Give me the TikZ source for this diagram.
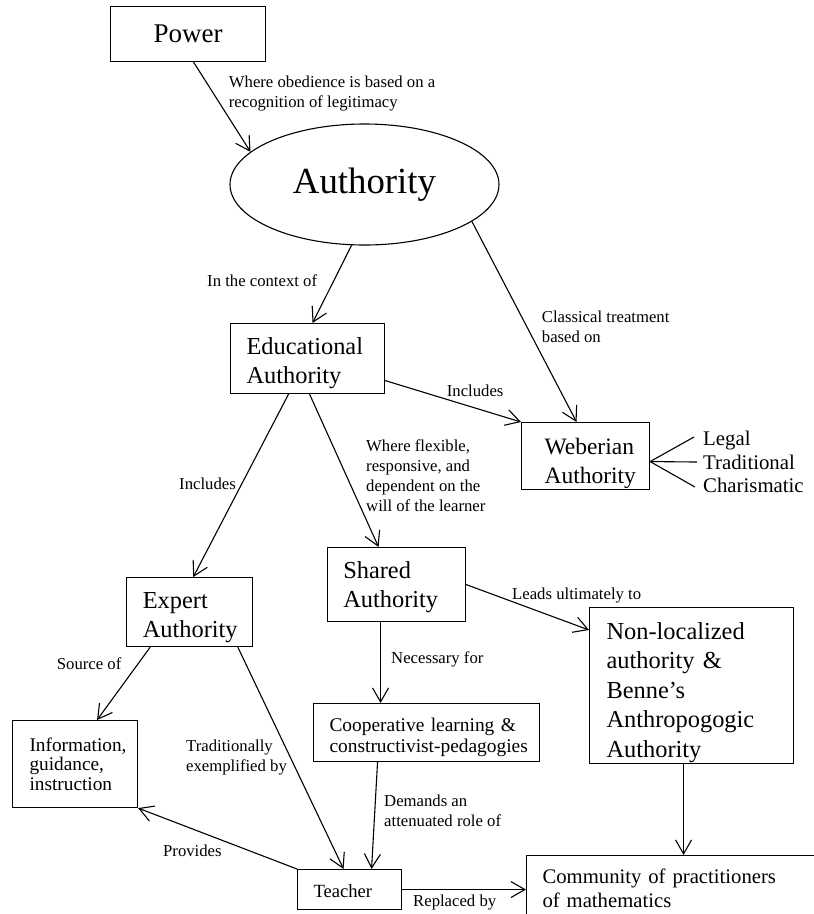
\documentclass[tikz,border=0pt]{standalone}
\usepackage{fontspec}
\setmainfont{Liberation Serif}
\usetikzlibrary{shapes.geometric,arrows.meta}
\hyphenpenalty=10000
\exhyphenpenalty=10000

\begin{document}
\begin{tikzpicture}[x=1pt,y=-1pt,
		box/.style={draw, rectangle, align=left, inner xsep=16pt, inner ysep=0pt, anchor=north west, line width=1.1pt},
		lbl/.style={align=left, inner sep=0pt, anchor=north west, font=\fontsize{16.7}{20}\selectfont},
		conn/.style={-{Straight Barb[length=14pt,width=16pt]}, line width=1.1pt}]
		\useasboundingbox (0,0) rectangle (814,914);
		\clip (0,0) rectangle (814,914);
		\node[box, align=center, inner xsep=10pt, text width=135pt, minimum height=55pt, font=\fontsize{27}{30}\selectfont] (power) at (110,6) {Power};
		\node[draw, ellipse, minimum width=269pt, minimum height=121pt, inner sep=0pt, line width=1.1pt, font=\fontsize{36.8}{40}\selectfont] (auth) at (364.5,184.5) {Authority};
		\node[box, text width=122pt, text height=26.7pt, minimum height=70pt, font=\fontsize{24.4}{29}\selectfont] (edu) at (230,323) {Educational\\Authority};
		\node[box, inner xsep=23pt, text width=82pt, text height=31pt, minimum height=67pt, font=\fontsize{23.5}{29}\selectfont] (web) at (521,422) {Weberian\\Authority};
		\node[lbl, font=\fontsize{20.8}{23.5}\selectfont] (types) at (703,431) {Legal\\Traditional\\Charismatic};
		\node[box, inner xsep=16.5pt, text width=93pt, text height=26.7pt, minimum height=69pt, font=\fontsize{24.4}{29}\selectfont] (expert) at (125.7,577) {Expert\\Authority};
		\node[box, inner xsep=15.7pt, text width=106.6pt, text height=22.7pt, minimum height=74pt, font=\fontsize{24.4}{29}\selectfont] (shared) at (327,547) {Shared\\Authority};
		\node[box, inner xsep=17pt, text width=91pt, minimum height=87pt, font=\fontsize{19.3}{19.5}\selectfont] (info) at (12,720) {Information,\\guidance,\\instruction};
		\node[box, text width=194pt, text height=23.3pt, minimum height=58pt, font=\fontsize{19.4}{21}\selectfont] (coop) at (313,703) {Cooperative learning \&\\constructivist-pedagogies};
		\node[box, inner xsep=17pt, text width=170pt, text height=30.7pt, minimum height=156pt, font=\fontsize{24.4}{29.5}\selectfont] (nonloc) at (589,607) {Non-localized\\authority \&\\Benne’s\\Anthropogogic\\Authority};
		\node[box, text width=72pt, text height=16.7pt, minimum height=40pt, font=\fontsize{18.6}{20}\selectfont] (teacher) at (297,869) {Teacher};
		\node[box, text width=272pt, minimum height=66pt, font=\fontsize{20.7}{23.5}\selectfont] (comm) at (526,855) {Community of practitioners\\of mathematics};

		\node[lbl] (obey) at (228.7,75.5) {Where obedience is based on a\\recognition of legitimacy};
		\node[lbl] (context) at (207,274.5) {In the context of};
		\node[lbl] (classical) at (541.7,310.5) {Classical treatment\\based on};
		\node[lbl] (incweb) at (446.7,384.5) {Includes};
		\node[lbl] (flexible) at (366,439.5) {Where flexible,\\responsive, and\\dependent on the\\will of the learner};
		\node[lbl] (incexp) at (179,477.5) {Includes};
		\node[lbl] (leads) at (512,587.5) {Leads ultimately to};
		\node[lbl] (necessary) at (391,652) {Necessary for};
		\node[lbl] (source) at (56.7,657.5) {Source of};
		\node[lbl] (tradition) at (186,739.5) {Traditionally\\exemplified by};
		\node[lbl] (demands) at (384,794.5) {Demands an\\attenuated role of};
		\node[lbl] (provides) at (163,844.5) {Provides};
		\node[lbl] (replaced) at (413,894.5) {Replaced by};

		\draw[conn] ([xshift=5.5pt]power.south) -- (auth.164);
		\draw[conn] (auth.258) -- ([xshift=5pt]edu.north);
		\draw[conn] (auth.-19) -- ([xshift=-9pt]web.north);
		\draw[conn] ([yshift=-22pt]edu.east) -- (web.north west);
		\draw[conn] ([xshift=-19pt]edu.south) -- ([xshift=4pt]expert.north);
		\draw[conn] ([xshift=2pt]edu.south) -- ([xshift=-18pt]shared.north);
		\draw[conn] (shared.east) -- ([yshift=-23pt]nonloc.north west);
		\draw[conn] ([xshift=-16pt]shared.south) -- ([xshift=-16pt]shared.south |- coop.north);
		\draw[conn] ([xshift=-49pt]coop.south) -- ([xshift=22pt]teacher.north);
		\draw[conn] ([xshift=-39pt]expert.south) -- ([xshift=22pt]info.north);
		\draw[conn] ([xshift=-15pt]expert.south east) -- ([xshift=-6pt]teacher.north);
		\draw[conn] (teacher.north west) -- (info.south east);
		\draw[conn] (teacher.east) -- (teacher.east -| comm.west);
		\draw[conn] ([xshift=-8pt]nonloc.south) -- ([xshift=-8pt]nonloc.south |- comm.north);
		\draw[line width=1.1pt] ([yshift=-5.5pt]web.east) -- ([xshift=-9pt,yshift=-6pt]types.north west);
		\draw[line width=1.1pt] ([yshift=-5.5pt]web.east) -- ([xshift=-6pt]types.west);
		\draw[line width=1.1pt] ([yshift=-5.5pt]web.east) -- ([xshift=-8pt,yshift=6pt]types.south west);
	\end{tikzpicture}
\end{document}
